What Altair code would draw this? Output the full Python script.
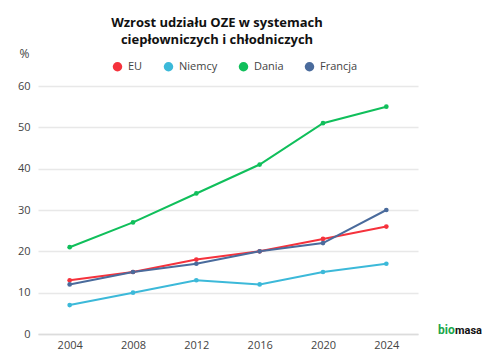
import altair as alt
import pandas as pd

years = ["2004", "2008", "2012", "2016", "2020", "2024"]
series_names = ["EU", "Niemcy", "Dania", "Francja"]
eu = [13, 15, 18, 20, 23, 26]
niemcy = [7, 10, 13, 12, 15, 17]
dania = [21, 27, 34, 41, 51, 55]
francja = [12, 15, 17, 20, 22, 30]
colors = ["#f5323c", "#3cb9d9", "#10bf5b", "#4a6b9c"]

rows = []
for name, vals in zip(series_names, [eu, niemcy, dania, francja]):
    for y, v in zip(years, vals):
        rows.append({"rok": y, "seria": name, "wartosc": v})
df = pd.DataFrame(rows)

FONT = "Open Sans"

color = alt.Color(
    "seria:N",
    scale=alt.Scale(domain=series_names, range=colors),
    sort=series_names,
    legend=alt.Legend(
        title=None, orient="none", direction="horizontal",
        legendX=74, legendY=-25, symbolType="circle", symbolSize=90,
        symbolStrokeWidth=0, labelFont=FONT, labelFontSize=11,
        labelColor="#444", columnPadding=20, labelOffset=5,
    ),
)

x = alt.X(
    "rok:O", sort=years, title=None,
    scale=alt.Scale(paddingOuter=0.5, paddingInner=0),
    axis=alt.Axis(labelAngle=0, ticks=False, domainColor="#dcdcdc", domainWidth=1.5,
                  labelFont=FONT, labelFontSize=11, labelColor="#444", labelPadding=5),
)
y = alt.Y(
    "wartosc:Q", title="%",
    scale=alt.Scale(domain=[0, 60], nice=False),
    axis=alt.Axis(values=[0, 10, 20, 30, 40, 50, 60], ticks=False, domain=False,
                  gridColor="#e8e8e8", gridWidth=1.5,
                  labelFont=FONT, labelFontSize=11, labelColor="#444", labelPadding=8,
                  titleAngle=0, titleAlign="left", titleBaseline="alphabetic",
                  titleX=-19, titleY=-29, titleFont=FONT, titleFontSize=12,
                  titleFontWeight="normal", titleColor="#444"),
)

lines = alt.Chart(df).mark_line(strokeWidth=2).encode(x=x, y=y, color=color)
points = alt.Chart(df).mark_point(filled=True, size=22, opacity=1).encode(x=x, y=y, color=color)

logo_bio = alt.Chart(pd.DataFrame({"t": ["bio"]})).mark_text(
    font="Roboto", fontSize=12, fontWeight="bold", color="#1aa64a", align="left", baseline="alphabetic"
).encode(text="t:N", x=alt.value(400), y=alt.value(248))
logo_masa = alt.Chart(pd.DataFrame({"t": ["masa"]})).mark_text(
    font="Roboto", fontSize=11, fontWeight="bold", color="#111111", align="left", baseline="alphabetic"
).encode(text="t:N", x=alt.value(417), y=alt.value(248))

chart = alt.layer(lines, points, logo_bio, logo_masa).properties(
    width=380, height=248,
    padding={"left": 38, "top": 86, "right": 67, "bottom": 16},
    autosize=alt.AutoSizeParams(type="none"),
    title=alt.TitleParams(
        ["Wzrost udziału OZE w systemach", "ciepłowniczych i chłodniczych"],
        font=FONT, fontSize=13, fontWeight="bold", color="#111", anchor="middle",
        dx=-11, offset=0, lineHeight=17,
    ),
).configure(background="white").configure_view(stroke=None)

chart.save("out.html", embed_options={"renderer": "svg", "actions": False})
